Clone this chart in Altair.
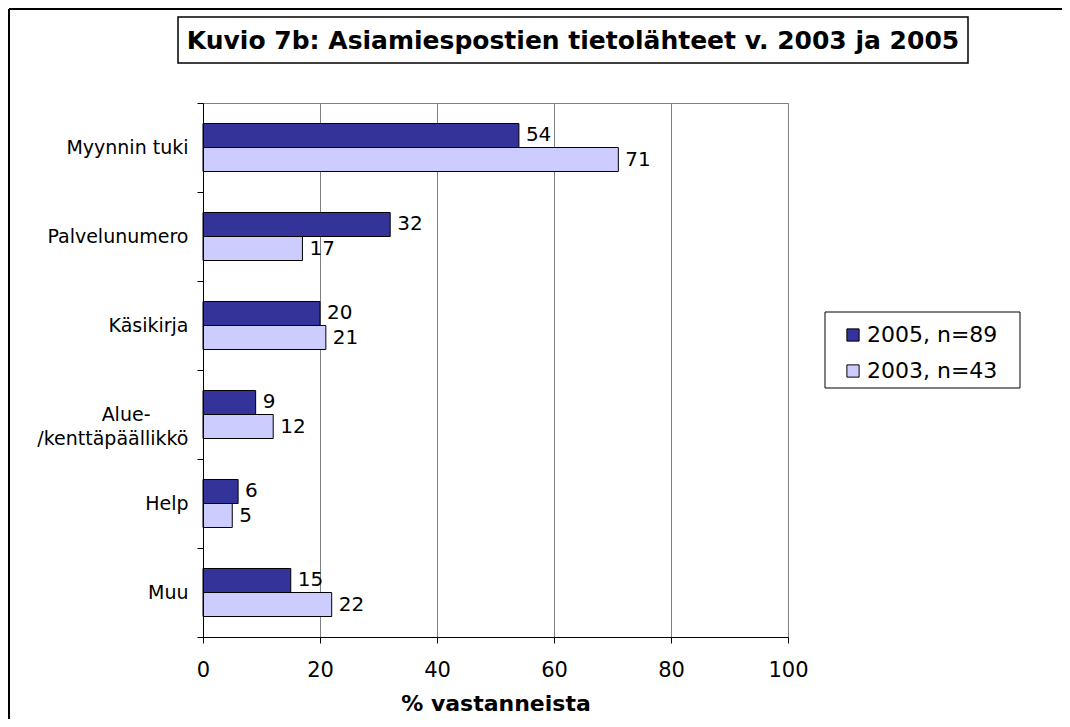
import altair as alt
import pandas as pd

categories = ["Myynnin tuki", "Palvelunumero", "Käsikirja", "Alue-/kenttäpäällikkö", "Help", "Muu"]
series = ["2005, n=89", "2003, n=43"]
values_2005 = [54, 32, 20, 9, 6, 15]
values_2003 = [71, 17, 21, 12, 5, 22]
colors = ["#333399", "#CCCCFF"]
title_text = "Kuvio 7b: Asiamiespostien tietolähteet v. 2003 ja 2005"
x_title = "% vastanneista"
x_ticks = [0, 20, 40, 60, 80, 100]

rows = []
for c, v in zip(categories, values_2005):
    rows.append({"cat": c, "series": series[0], "value": v})
for c, v in zip(categories, values_2003):
    rows.append({"cat": c, "series": series[1], "value": v})
df = pd.DataFrame(rows)

FONT = "DejaVu Sans"
W, H = 585, 534

label_expr = (
    "datum.label == 'Alue-/kenttäpäällikkö' ? "
    "['Alue-\u2002\u2002\u2002\u2002\u2060', '/kenttäpäällikkö'] : datum.label"
)

y_enc = alt.Y(
    "cat:N",
    sort=categories,
    scale=alt.Scale(paddingInner=0, paddingOuter=0),
    axis=alt.Axis(
        title=None,
        tickBand="extent",
        labelExpr=label_expr,
        labelFontSize=19,
        labelColor="black",
        labelPadding=9,
        tickSize=6,
        tickColor="black",
        domainColor="black",
        labelLineHeight=24,
        grid=False,
        zindex=1,
    ),
)
x_enc = alt.X(
    "value:Q",
    scale=alt.Scale(domain=[0, 100], nice=False),
    axis=alt.Axis(
        values=x_ticks,
        title=x_title,
        titleFontSize=22,
        titleFontWeight="bold",
        titleColor="black",
        titlePadding=13,
        labelFontSize=21,
        labelColor="black",
        labelPadding=16,
        labelFlush=False,
        tickSize=6,
        tickColor="black",
        domainColor="black",
        grid=True,
        gridColor="#808080",
        gridWidth=1,
    ),
)
yoff = alt.YOffset("series:N", sort=series, scale=alt.Scale(paddingInner=0, paddingOuter=0.854))

bars = alt.Chart(df).mark_bar(stroke="black", strokeWidth=1).encode(
    y=y_enc,
    x=x_enc,
    yOffset=yoff,
    color=alt.Color(
        "series:N",
        sort=series,
        scale=alt.Scale(domain=series, range=colors),
        legend=alt.Legend(
            title=None,
            orient="none",
            legendX=639,
            legendY=221,
            symbolType="square",
            symbolSize=150,
            symbolStrokeColor="black",
            symbolStrokeWidth=1,
            labelFontSize=22,
            labelColor="black",
            rowPadding=14,
            labelLimit=300,
            labelOffset=3,
        ),
    ),
)

labels = alt.Chart(df).mark_text(
    align="left", baseline="middle", dx=7, fontSize=20, color="black", font=FONT
).encode(
    y=alt.Y("cat:N", sort=categories),
    x=alt.X("value:Q"),
    yOffset=yoff,
    text="value:Q",
)

one = pd.DataFrame({"k": [0]})

outer_left = alt.Chart(one).mark_rule(color="black", strokeWidth=2).encode(
    x=alt.value(-194), y=alt.value(-94), y2=alt.value(3000)
)
outer_top = alt.Chart(one).mark_rule(color="black", strokeWidth=2).encode(
    x=alt.value(-194), x2=alt.value(3000), y=alt.value(-94)
)
title_box = alt.Chart(one).mark_rect(fill="white", stroke="black", strokeWidth=1.5).encode(
    x=alt.value(-25), x2=alt.value(765), y=alt.value(-86), y2=alt.value(-40)
)
title_mark = alt.Chart(pd.DataFrame({"t": [title_text]})).mark_text(
    align="center", baseline="middle", fontSize=25, fontWeight="bold", color="black", font=FONT
).encode(x=alt.value(370), y=alt.value(-62), text="t:N")
legend_box = alt.Chart(one).mark_rect(fill="white", stroke="black", strokeWidth=1).encode(
    x=alt.value(622), x2=alt.value(817), y=alt.value(209), y2=alt.value(285)
)

chart = alt.layer(outer_left, outer_top, title_box, title_mark, legend_box, bars, labels).properties(
    width=W,
    height=H,
    padding={"left": 195, "top": 95, "right": 274, "bottom": 82},
    autosize=alt.AutoSizeParams(type="none"),
    background="white",
).configure(font=FONT).configure_view(stroke="#808080", strokeWidth=1)

chart.save("out.html", embed_options={"renderer": "svg", "actions": False})
